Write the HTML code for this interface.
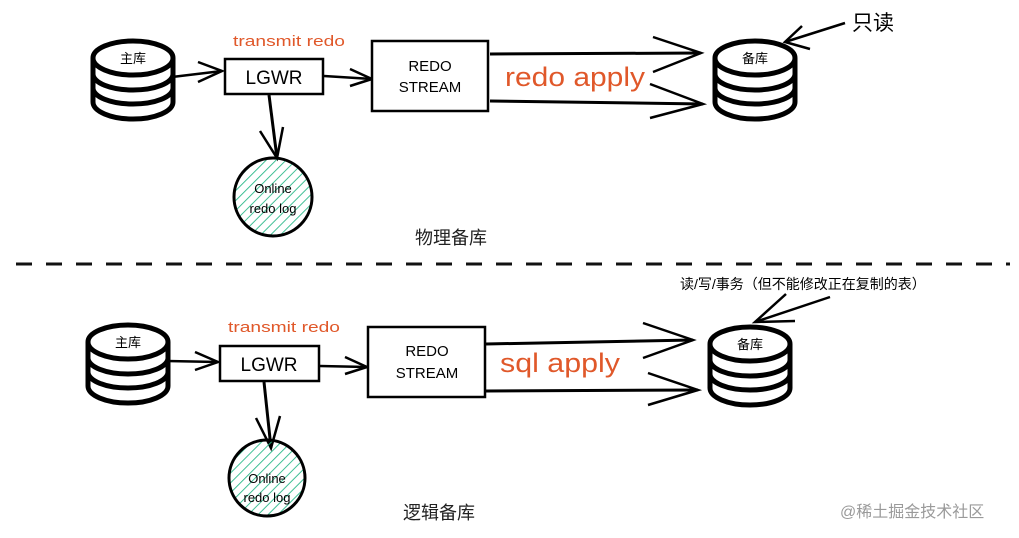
<!DOCTYPE html>
<html><head><meta charset="utf-8"><style>
html,body{margin:0;padding:0;background:#fff;width:1019px;height:538px;overflow:hidden}
svg{display:block}
.hand{font-family:"Liberation Sans","Noto Sans CJK SC",sans-serif}
</style></head><body>
<svg width="1019" height="538" viewBox="0 0 1019 538" xmlns="http://www.w3.org/2000/svg">
<defs>
<pattern id="hatch" width="7" height="7" patternUnits="userSpaceOnUse" patternTransform="rotate(45)">
<line x1="0" y1="0" x2="0" y2="7" stroke="#2bb98a" stroke-width="1.8"/>
</pattern>
<g id="cyl">
<path d="M0,20 L0,64 A40,17 0 0 0 80,64 L80,20" fill="#fff" stroke="#000" stroke-width="5"/>
<path d="M0,36 A40,16 0 0 0 80,36" fill="none" stroke="#000" stroke-width="5"/>
<path d="M0,50 A40,16 0 0 0 80,50" fill="none" stroke="#000" stroke-width="5"/>
<ellipse cx="40" cy="20" rx="40" ry="17" fill="#fff" stroke="#000" stroke-width="5"/>
</g>
</defs>

<!-- TOP -->
<use href="#cyl" x="93" y="38"/>
<text x="133" y="63" font-size="13" text-anchor="middle" class="hand">主库</text>
<line x1="172" y1="77" x2="222" y2="71" stroke="#000" stroke-width="2.5"/>
<polyline points="198,62 222,71 198,82" fill="none" stroke="#000" stroke-width="2.5"/>
<text x="289" y="46" font-size="15" fill="#e0582a" text-anchor="middle" class="hand" textLength="112" lengthAdjust="spacingAndGlyphs">transmit redo</text>
<rect x="225" y="59" width="98" height="35" fill="#fff" stroke="#000" stroke-width="2.5"/>
<text x="274" y="84" font-size="19" text-anchor="middle" class="hand">LGWR</text>
<line x1="324" y1="76" x2="372" y2="79" stroke="#000" stroke-width="2.5"/>
<polyline points="350,69 372,79 350,86" fill="none" stroke="#000" stroke-width="2.5"/>
<rect x="372" y="41" width="116" height="70" fill="#fff" stroke="#000" stroke-width="2.5"/>
<text x="430" y="71" font-size="15" text-anchor="middle" class="hand">REDO</text>
<text x="430" y="92" font-size="15" text-anchor="middle" class="hand">STREAM</text>
<line x1="490" y1="54" x2="701" y2="53" stroke="#000" stroke-width="3"/>
<line x1="490" y1="101" x2="703" y2="104" stroke="#000" stroke-width="3"/>
<polyline points="653,37 701,53 653,72" fill="none" stroke="#000" stroke-width="2.5"/>
<polyline points="650,84 703,104 650,118" fill="none" stroke="#000" stroke-width="2.5"/>
<text x="505" y="86" font-size="27" fill="#e0582a" class="hand" textLength="140" lengthAdjust="spacingAndGlyphs">redo apply</text>
<use href="#cyl" x="715" y="38"/>
<text x="755" y="63" font-size="13" text-anchor="middle" class="hand">备库</text>
<line x1="845" y1="23" x2="785" y2="42" stroke="#000" stroke-width="2.5"/>
<polyline points="802,26 785,42 810,49" fill="none" stroke="#000" stroke-width="2.5"/>
<text x="852" y="30" font-size="21" class="hand">只读</text>
<line x1="269" y1="95" x2="277" y2="158" stroke="#000" stroke-width="3"/>
<polyline points="260,131 277,158 283,127" fill="none" stroke="#000" stroke-width="2.5"/>
<circle cx="273" cy="197" r="39" fill="url(#hatch)" stroke="#000" stroke-width="3"/>
<text x="273" y="193" font-size="13" text-anchor="middle" class="hand">Online</text>
<text x="273" y="213" font-size="13" text-anchor="middle" class="hand">redo log</text>
<text x="415" y="244" font-size="18" fill="#222" class="hand">物理备库</text>

<line x1="16" y1="264" x2="1010" y2="264" stroke="#111" stroke-width="3" stroke-dasharray="16,14"/>

<!-- BOTTOM -->
<use href="#cyl" x="88" y="322"/>
<text x="128" y="347" font-size="13" text-anchor="middle" class="hand">主库</text>
<line x1="167" y1="361" x2="218" y2="362" stroke="#000" stroke-width="2.5"/>
<polyline points="195,352 218,362 195,370" fill="none" stroke="#000" stroke-width="2.5"/>
<text x="284" y="332" font-size="15" fill="#e0582a" text-anchor="middle" class="hand" textLength="112" lengthAdjust="spacingAndGlyphs">transmit redo</text>
<rect x="220" y="346" width="99" height="35" fill="#fff" stroke="#000" stroke-width="2.5"/>
<text x="269" y="371" font-size="19" text-anchor="middle" class="hand">LGWR</text>
<line x1="320" y1="366" x2="367" y2="367" stroke="#000" stroke-width="2.5"/>
<polyline points="345,357 367,367 345,374" fill="none" stroke="#000" stroke-width="2.5"/>
<rect x="368" y="327" width="117" height="70" fill="#fff" stroke="#000" stroke-width="2.5"/>
<text x="427" y="356" font-size="15" text-anchor="middle" class="hand">REDO</text>
<text x="427" y="378" font-size="15" text-anchor="middle" class="hand">STREAM</text>
<line x1="486" y1="344" x2="693" y2="340" stroke="#000" stroke-width="3"/>
<line x1="486" y1="391" x2="698" y2="390" stroke="#000" stroke-width="3"/>
<polyline points="643,323 693,340 643,358" fill="none" stroke="#000" stroke-width="2.5"/>
<polyline points="648,373 698,390 648,405" fill="none" stroke="#000" stroke-width="2.5"/>
<text x="500" y="372" font-size="27" fill="#e0582a" class="hand" textLength="120" lengthAdjust="spacingAndGlyphs">sql apply</text>
<use href="#cyl" x="710" y="324"/>
<text x="750" y="349" font-size="13" text-anchor="middle" class="hand">备库</text>
<line x1="830" y1="297" x2="755" y2="322" stroke="#000" stroke-width="2.5"/>
<polyline points="786,294 755,322 795,321" fill="none" stroke="#000" stroke-width="2.5"/>
<text x="680" y="289" font-size="14" class="hand">读/写/事务（但不能修改正在复制的表）</text>
<line x1="264" y1="382" x2="271" y2="448" stroke="#000" stroke-width="3"/>
<polyline points="256,418 271,448 280,416" fill="none" stroke="#000" stroke-width="2.5"/>
<circle cx="267" cy="478" r="38" fill="url(#hatch)" stroke="#000" stroke-width="3"/>
<text x="267" y="483" font-size="13" text-anchor="middle" class="hand">Online</text>
<text x="267" y="502" font-size="13" text-anchor="middle" class="hand">redo log</text>
<text x="403" y="519" font-size="18" fill="#222" class="hand">逻辑备库</text>
<text x="840" y="517" font-size="16" fill="#9a9a9a" class="hand">@稀土掘金技术社区</text>
</svg>
</body></html>
